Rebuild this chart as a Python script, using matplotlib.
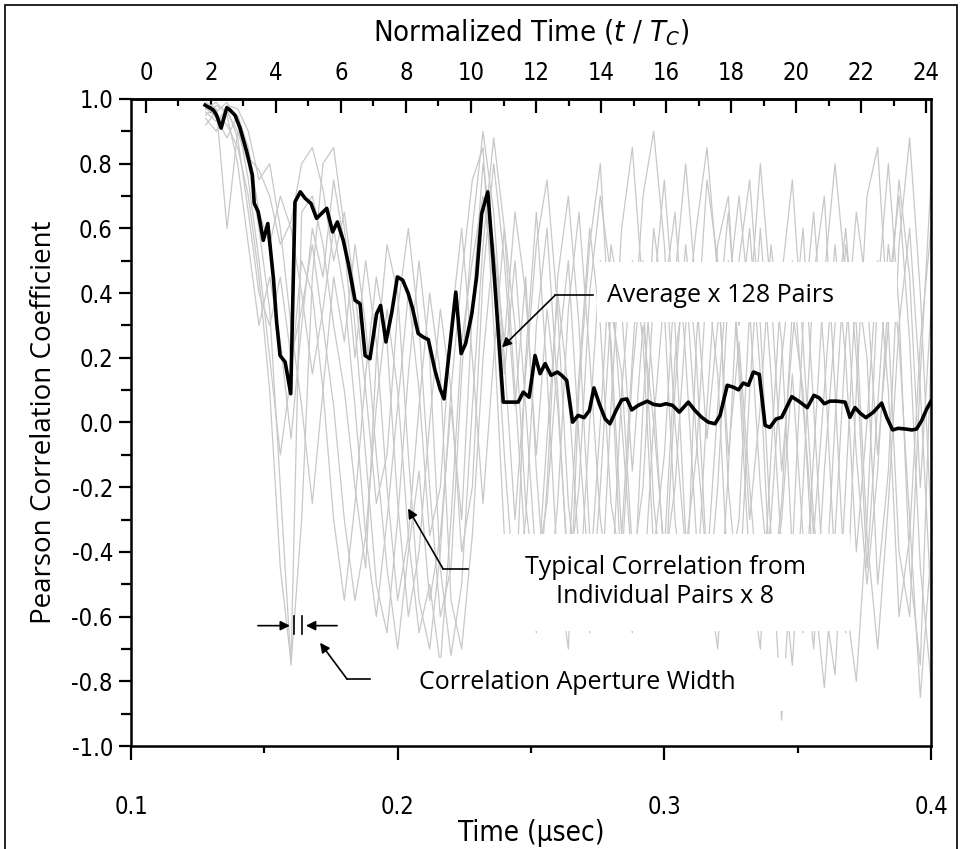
import numpy as np
import matplotlib.pyplot as plt
from matplotlib.patches import Rectangle
from matplotlib.ticker import MultipleLocator, FixedLocator, FormatStrFormatter

plt.rcParams['axes.unicode_minus'] = False
plt.rcParams['mathtext.fontset'] = 'custom'
plt.rcParams['mathtext.rm'] = 'DejaVu Sans:stretch=condensed'
plt.rcParams['mathtext.it'] = 'DejaVu Sans:italic:stretch=condensed'

NARROW = ['DejaVu Sans']
WIDE = ['Open Sans', 'DejaVu Sans']

# average correlation over 128 pairs
avg_time = [0.1278, 0.1309, 0.1321, 0.1338, 0.1359, 0.1371, 0.1390, 0.1409, 0.1434, 0.1455,
            0.1462, 0.1477, 0.1496, 0.1513, 0.1534, 0.1546, 0.1559, 0.1578, 0.1599, 0.1615,
            0.1635, 0.1653, 0.1675, 0.1696, 0.1734, 0.1756, 0.1774, 0.1796, 0.1815, 0.1840,
            0.1859, 0.1878, 0.1896, 0.1921, 0.1936, 0.1956, 0.1978, 0.1999, 0.2019, 0.2040,
            0.2056, 0.2077, 0.2096, 0.2115, 0.2140, 0.2159, 0.2174, 0.2218, 0.2238, 0.2255,
            0.2278, 0.2296, 0.2315, 0.2338, 0.2359, 0.2377, 0.2396, 0.2421, 0.2452, 0.2471,
            0.2493, 0.2515, 0.2534, 0.2553, 0.2575, 0.2599, 0.2615, 0.2634, 0.2656, 0.2677,
            0.2699, 0.2719, 0.2736, 0.2756, 0.2778, 0.2796, 0.2819, 0.2840, 0.2859, 0.2878,
            0.2902, 0.2936, 0.2959, 0.2984, 0.3006, 0.3031, 0.3056, 0.3090, 0.3115, 0.3140,
            0.3165, 0.3190, 0.3209, 0.3236, 0.3259, 0.3278, 0.3296, 0.3315, 0.3334, 0.3356,
            0.3378, 0.3396, 0.3419, 0.3440, 0.3478, 0.3509, 0.3536, 0.3561, 0.3581, 0.3600,
            0.3621, 0.3646, 0.3678, 0.3696, 0.3715, 0.3734, 0.3756, 0.3784, 0.3815, 0.3834,
            0.3856, 0.3877, 0.3903, 0.3928, 0.3946, 0.3965, 0.3984, 0.4000]
avg_corr = [0.981, 0.966, 0.950, 0.910, 0.973, 0.966, 0.950, 0.910, 0.837, 0.765,
            0.678, 0.651, 0.563, 0.615, 0.446, 0.311, 0.207, 0.187, 0.089, 0.682,
            0.713, 0.693, 0.677, 0.631, 0.662, 0.589, 0.620, 0.563, 0.491, 0.378,
            0.367, 0.207, 0.197, 0.336, 0.362, 0.249, 0.341, 0.450, 0.440, 0.398,
            0.352, 0.275, 0.264, 0.256, 0.161, 0.104, 0.073, 0.403, 0.213, 0.244,
            0.336, 0.450, 0.646, 0.713, 0.491, 0.285, 0.063, 0.063, 0.063, 0.094,
            0.078, 0.207, 0.151, 0.182, 0.146, 0.156, 0.146, 0.130, 0.001, 0.022,
            0.015, 0.037, 0.107, 0.058, 0.011, -0.004, 0.037, 0.070, 0.073, 0.039,
            0.053, 0.066, 0.056, 0.053, 0.058, 0.053, 0.032, 0.063, 0.037, 0.016,
            0.001, -0.004, 0.022, 0.115, 0.109, 0.101, 0.122, 0.115, 0.156, 0.149,
            -0.009, -0.015, 0.011, 0.016, 0.080, 0.063, 0.046, 0.084, 0.076, 0.058,
            0.066, 0.066, 0.063, 0.016, 0.046, 0.029, 0.015, 0.032, 0.060, 0.016,
            -0.023, -0.018, -0.020, -0.023, -0.020, 0.006, 0.042, 0.066]

# individual pairs, sampled every 4 ns
pair_time = np.linspace(0.128, 0.400, 69)
pair_1 = [0.97, 0.95, 0.92, 0.85, 0.70, 0.45, 0.10, -0.45, -0.74, 0.65,
          0.70, 0.55, 0.30, 0.10, -0.20, -0.45, 0.20, 0.55, 0.40, -0.10,
          -0.55, -0.70, -0.40, 0.10, 0.45, 0.75, 0.85, 0.30, -0.35, -0.60,
          0.20, 0.65, 0.15, -0.45, -0.70, 0.10, 0.55, 0.80, 0.20, -0.50,
          -0.65, 0.05, 0.60, 0.35, -0.30, -0.60, 0.25, 0.75, 0.50, -0.20,
          -0.55, 0.10, 0.60, 0.15, -0.40, -0.75, -0.20, 0.45, 0.70, 0.10,
          -0.55, -0.80, -0.30, 0.40, 0.80, 0.35, -0.45, -0.75, 0.20]
pair_2 = [0.99, 0.97, 0.60, 0.90, 0.80, 0.60, 0.35, -0.20, -0.75, -0.30,
          0.45, 0.80, 0.85, 0.60, 0.30, -0.10, -0.50, -0.65, -0.30, 0.15,
          0.50, 0.20, -0.45, -0.72, -0.50, 0.05, 0.55, 0.88, 0.60, 0.10,
          -0.40, -0.65, -0.20, 0.45, 0.70, 0.30, -0.35, -0.60, 0.05, 0.60,
          0.85, 0.40, -0.25, -0.55, 0.10, 0.55, 0.20, -0.45, -0.70, -0.15,
          0.50, 0.75, 0.30, -0.35, -0.92, -0.40, 0.30, 0.65, 0.20, -0.45,
          -0.65, 0.10, 0.70, 0.85, 0.30, -0.40, -0.60, 0.15, 0.75]
pair_3 = [0.95, 0.98, 0.96, 0.90, 0.82, 0.78, 0.70, 0.55, 0.62, 0.80,
          0.85, 0.72, 0.50, 0.65, 0.40, 0.10, -0.25, -0.10, 0.35, 0.60,
          0.30, -0.20, -0.60, -0.45, 0.15, 0.60, 0.90, 0.65, 0.20, -0.30,
          0.15, 0.55, 0.75, 0.35, -0.25, -0.55, 0.00, 0.50, 0.25, -0.35,
          0.20, 0.70, 0.90, 0.55, 0.00, -0.40, -0.10, 0.45, 0.15, -0.50,
          -0.30, 0.35, 0.80, 0.40, -0.15, 0.25, 0.60, 0.05, -0.55, -0.78,
          -0.20, 0.45, 0.20, -0.50, -0.15, 0.55, 0.88, 0.40, -0.30]
pair_4 = [0.96, 0.93, 0.97, 0.88, 0.65, 0.40, 0.30, 0.45, 0.20, 0.35,
          0.55, 0.30, 0.05, -0.30, -0.55, -0.35, 0.05, 0.35, 0.10, -0.35,
          -0.65, -0.50, -0.75, -0.30, 0.25, 0.50, 0.70, 0.45, -0.10, -0.55,
          -0.30, 0.30, 0.60, 0.10, -0.50, -0.20, 0.40, 0.70, 0.45, 0.00,
          -0.45, -0.20, 0.40, 0.75, 0.30, -0.35, -0.55, 0.05, 0.55, 0.70,
          0.15, -0.45, -0.70, -0.10, 0.45, 0.75, 0.25, -0.30, -0.60, 0.00,
          0.55, 0.30, -0.35, -0.70, -0.25, 0.30, 0.60, 0.10, -0.55]
pair_5 = [0.92, 0.96, 0.99, 0.93, 0.75, 0.50, 0.20, -0.10, 0.15, 0.50,
          0.40, 0.10, -0.30, -0.55, -0.25, 0.15, 0.45, 0.25, -0.25, -0.60,
          -0.40, 0.00, 0.35, 0.10, -0.40, -0.20, 0.45, 0.80, 0.50, 0.05,
          0.45, -0.15, -0.60, -0.25, 0.35, 0.65, 0.20, -0.30, -0.55, 0.10,
          0.50, 0.25, -0.40, -0.10, 0.45, 0.80, 0.40, -0.05, 0.30, 0.65,
          0.20, -0.30, 0.05, 0.55, 0.25, -0.40, -0.65, -0.10, 0.45, 0.80,
          0.45, -0.10, -0.50, -0.15, 0.40, 0.70, 0.25, -0.45, -0.80]
pair_6 = [0.98, 0.94, 0.88, 0.95, 0.85, 0.65, 0.55, 0.70, 0.60, 0.40,
          0.15, 0.35, 0.60, 0.40, 0.05, -0.35, -0.60, -0.30, 0.05, 0.40,
          0.10, -0.35, -0.20, 0.30, 0.60, 0.20, -0.25, 0.20, 0.60, 0.30,
          -0.25, -0.55, -0.05, 0.40, 0.10, -0.40, -0.65, -0.20, 0.35, 0.15,
          -0.40, -0.55, 0.00, 0.40, 0.65, 0.20, -0.35, -0.60, -0.20, 0.40,
          0.70, 0.35, -0.20, -0.55, -0.25, 0.35, 0.10, -0.50, -0.82, -0.35,
          0.25, 0.65, 0.40, -0.10, 0.30, 0.75, 0.45, -0.20, 0.35]
pair_7 = [0.97, 0.99, 0.95, 0.80, 0.55, 0.30, 0.45, 0.25, -0.05, 0.30,
          0.60, 0.45, 0.75, 0.55, 0.20, 0.50, 0.25, -0.20, -0.55, -0.35,
          0.05, 0.40, 0.15, -0.55, -0.70, -0.35, 0.20, 0.55, 0.25, 0.65,
          0.40, -0.10, 0.35, 0.05, -0.45, 0.15, 0.60, 0.30, -0.25, -0.45,
          0.15, 0.50, 0.10, -0.45, -0.20, 0.30, 0.60, 0.85, 0.45, -0.10,
          0.25, -0.20, -0.60, -0.30, 0.20, 0.50, 0.05, -0.35, 0.10, 0.55,
          0.20, -0.40, 0.00, 0.50, 0.10, -0.60, -0.35, 0.25, 0.60]
pair_8 = [0.94, 0.90, 0.98, 0.97, 0.90, 0.75, 0.80, 0.60, 0.30, 0.05,
          -0.25, 0.10, 0.45, 0.25, 0.55, 0.30, -0.10, -0.45, -0.70, -0.40,
          -0.15, -0.55, -0.35, 0.05, -0.30, 0.35, 0.80, 0.55, 0.15, 0.50,
          0.05, -0.45, -0.25, 0.20, 0.50, -0.05, -0.50, 0.00, 0.55, 0.35,
          -0.15, 0.30, 0.00, -0.40, 0.20, 0.45, -0.05, -0.45, 0.05, 0.50,
          0.30, 0.60, 0.15, -0.55, -0.30, 0.15, -0.35, -0.70, -0.15, 0.30,
          0.60, 0.20, -0.45, 0.05, 0.55, 0.25, -0.30, -0.85, -0.40]
pairs = [pair_1, pair_2, pair_3, pair_4, pair_5, pair_6, pair_7, pair_8]

# normalized time axis: t / Tc
t_start = 0.1056
t_c = 0.01219
norm_major = [0, 2, 4, 6, 8, 10, 12, 14, 16, 18, 20, 22, 24]
norm_minor = [1, 3, 5, 7, 9, 11, 13, 15, 17, 19, 21, 23]


def to_norm(t):
    return (t - t_start) / t_c


def from_norm(n):
    return n * t_c + t_start


fig = plt.figure(figsize=(9.61, 8.49), dpi=100)
ax = fig.add_axes([131 / 961, 1 - 746 / 849, 800 / 961, 647 / 849])

for p in pairs:
    ax.plot(pair_time, p, color='#c8c8c8', lw=0.9, zorder=1)
ax.plot(avg_time, avg_corr, color='black', lw=2.6, zorder=4)

ax.set_xlim(0.1, 0.4)
ax.set_ylim(-1.0, 1.0)

for s in ax.spines.values():
    s.set_linewidth(1.8)

ax.xaxis.set_major_locator(MultipleLocator(0.1))
ax.xaxis.set_minor_locator(MultipleLocator(0.05))
ax.yaxis.set_major_locator(MultipleLocator(0.2))
ax.yaxis.set_minor_locator(MultipleLocator(0.1))
ax.xaxis.set_major_formatter(FormatStrFormatter('%.1f'))
ax.yaxis.set_major_formatter(FormatStrFormatter('%.1f'))
ax.tick_params(which='both', direction='out', top=False, right=False, width=1.6)
ax.tick_params(axis='x', which='major', length=10, pad=25)
ax.tick_params(axis='x', which='minor', length=5)
ax.tick_params(axis='y', which='major', length=9, pad=4)
ax.tick_params(axis='y', which='minor', length=7)
for lab in ax.get_xticklabels() + ax.get_yticklabels():
    lab.set_fontfamily(NARROW)
    lab.set_fontstretch('condensed')
    lab.set_fontsize(17)

ax.set_xlabel('Time (μsec)', fontsize=20, family=NARROW, fontstretch='condensed', labelpad=0)
ax.set_ylabel('Pearson Correlation Coefficient', fontsize=20, family=WIDE, labelpad=10)

top = ax.secondary_xaxis('top', functions=(to_norm, from_norm))
top.xaxis.set_major_locator(FixedLocator(norm_major))
top.xaxis.set_minor_locator(FixedLocator(norm_minor))
top.tick_params(which='both', direction='in', width=1.6)
top.tick_params(which='major', length=10, pad=10)
top.tick_params(which='minor', length=5)
top.spines['top'].set_linewidth(1.8)
for lab in top.get_xticklabels():
    lab.set_fontfamily(NARROW)
    lab.set_fontstretch('condensed')
    lab.set_fontsize(17)
top.set_xlabel(r'Normalized Time ($t$ / $T_C$)', fontsize=21, family=NARROW,
               fontstretch='condensed', labelpad=14)

# white boxes behind the annotation texts
for x0, y0, w, h in [(0.2748, 0.310, 0.1125, 0.185),
                     (0.2346, -0.644, 0.1350, 0.300),
                     (0.1934, -0.892, 0.1537, 0.164)]:
    ax.add_patch(Rectangle((x0, y0), w, h, facecolor='white', edgecolor='none', zorder=2))

ax.text(0.3209, 0.393, 'Average x 128 Pairs', fontsize=18, family=WIDE,
        ha='center', va='center', zorder=5)
ax.text(0.3003, -0.492, 'Typical Correlation from\nIndividual Pairs x 8', fontsize=18,
        family=WIDE, ha='center', va='center', linespacing=1.2, zorder=5)
ax.text(0.2673, -0.805, 'Correlation Aperture Width', fontsize=18, family=WIDE,
        ha='center', va='center', zorder=5)

arrow = dict(arrowstyle='-|>', color='black', lw=1.2, mutation_scale=14, shrinkA=0, shrinkB=0)

# leader to the average curve
ax.plot([0.2733, 0.2590], [0.393, 0.393], color='black', lw=1.2, zorder=5)
ax.annotate('', xy=(0.2391, 0.232), xytext=(0.2590, 0.393), arrowprops=arrow, zorder=5)

# leader to the individual pairs
ax.plot([0.2264, 0.2170], [-0.452, -0.452], color='black', lw=1.2, zorder=5)
ax.annotate('', xy=(0.2039, -0.266), xytext=(0.2170, -0.452), arrowprops=arrow, zorder=5)

# aperture width marker
ax.annotate('', xy=(0.1596, -0.628), xytext=(0.1476, -0.628), arrowprops=arrow, zorder=5)
ax.annotate('', xy=(0.1656, -0.628), xytext=(0.1773, -0.628), arrowprops=arrow, zorder=5)
ax.plot([0.1611, 0.1611], [-0.598, -0.653], color='black', lw=1.2, zorder=5)
ax.plot([0.1641, 0.1641], [-0.598, -0.653], color='black', lw=1.2, zorder=5)
ax.plot([0.1896, 0.1810], [-0.793, -0.793], color='black', lw=1.2, zorder=5)
ax.annotate('', xy=(0.1709, -0.681), xytext=(0.1810, -0.793), arrowprops=arrow, zorder=5)

# thin frame round the whole figure
fig.patches.append(Rectangle((5 / 961, -0.01), 952 / 961, 1.01 - 5 / 849,
                             transform=fig.transFigure, fill=False,
                             edgecolor='black', lw=1.2))

fig.savefig('out.png', dpi=100)
